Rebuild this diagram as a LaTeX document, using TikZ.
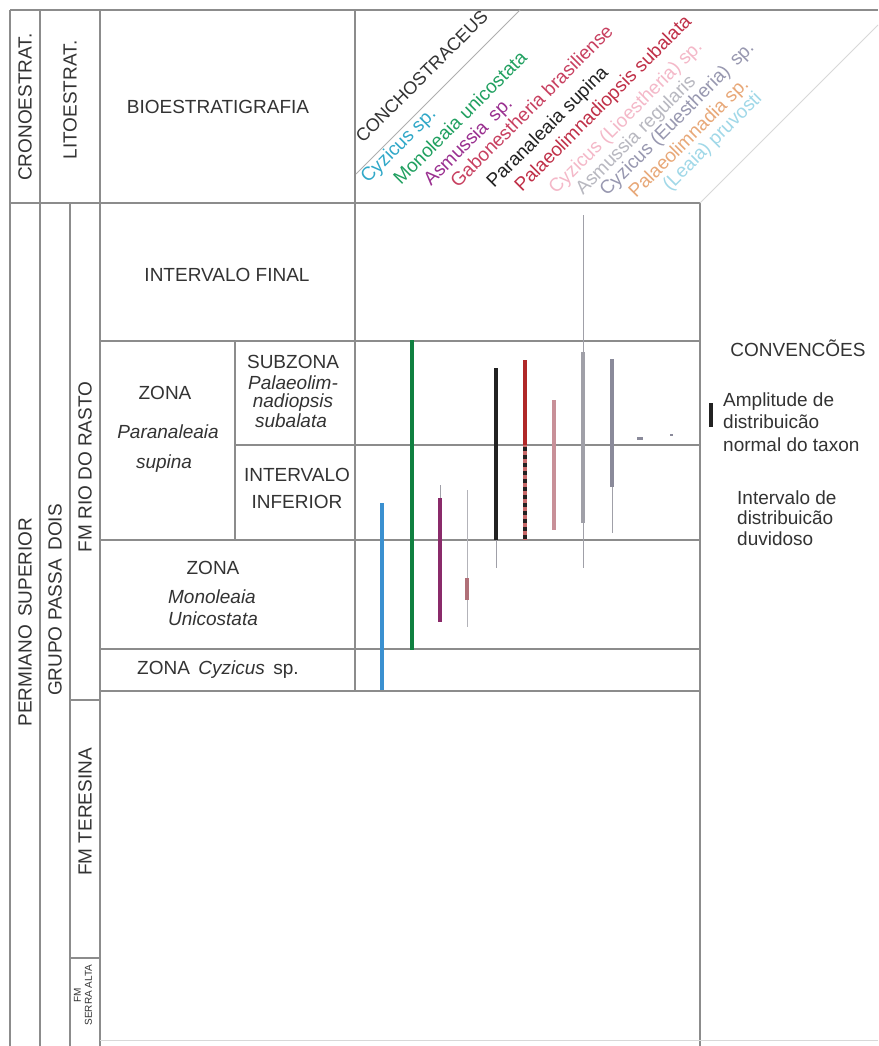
\documentclass[tikz,border=0pt]{standalone}
\usepackage{fontspec}
\setmainfont{Liberation Sans}
\definecolor{gridc}{HTML}{8C8C8C}
\definecolor{faintc}{HTML}{D8D8D8}
\definecolor{txtc}{HTML}{333333}
\definecolor{cblue}{HTML}{3A90D0}
\definecolor{cgreen}{HTML}{108040}
\definecolor{cpurple}{HTML}{8A2A6A}
\definecolor{cbrown}{HTML}{B07078}
\definecolor{cblack}{HTML}{222222}
\definecolor{cred}{HTML}{B02828}
\definecolor{cpink}{HTML}{C89098}
\definecolor{cgray}{HTML}{A0A0A8}
\definecolor{cslate}{HTML}{8A8A9A}
\definecolor{lcyan}{HTML}{30A8C8}
\definecolor{lgreen}{HTML}{20A060}
\definecolor{lpurple}{HTML}{9A3090}
\definecolor{lrose}{HTML}{C84060}
\definecolor{lred}{HTML}{C03048}
\definecolor{llpink}{HTML}{F4B8C8}
\definecolor{llgray}{HTML}{B8B8C0}
\definecolor{lgraypurple}{HTML}{9898B0}
\definecolor{lorange}{HTML}{E8A878}
\definecolor{llcyan}{HTML}{A0D8E8}
\begin{document}
\begin{tikzpicture}[x=1pt,y=-1pt,
  grid/.style={draw=gridc, line width=1.1pt},
  faint/.style={draw=faintc, line width=1pt},
  txt/.style={text=txtc, font=\fontsize{19}{21}\selectfont, inner sep=0pt},
  itxt/.style={txt, font=\fontsize{19}{21}\selectfont\itshape},
  vtxt/.style={txt, rotate=90},
  sp/.style={font=\fontsize{19}{21}\selectfont, rotate=45, anchor=base west, inner sep=0pt},
  bar/.style={line width=4.5pt},
  thinbar/.style={line width=0.8pt}
]
\useasboundingbox (0,0) rectangle (878,1046);
\fill[white] (0,0) rectangle (878,1046);

% ---- table lines ----
\draw[grid] (10,10) -- (878,10);
\draw[grid] (10,10) -- (10,1046);
\draw[grid] (40,10) -- (40,1046);
\draw[grid] (70,203) -- (70,1046);
\draw[grid] (100,10) -- (100,1046);
\draw[grid] (355,10) -- (355,691);
\draw[grid] (700,203) -- (700,1046);
\draw[grid] (10,203) -- (700,203);
\draw[grid] (100,341) -- (700,341);
\draw[grid] (235,341) -- (235,540);
\draw[grid] (235,445) -- (700,445);
\draw[grid] (100,540) -- (700,540);
\draw[grid] (100,649) -- (700,649);
\draw[grid] (100,691) -- (700,691);
\draw[grid] (70,700) -- (100,700);
\draw[grid] (70,958) -- (100,958);
\draw[faint] (100,1040) -- (878,1040);
\draw[draw=gridc!70, line width=0.9pt] (356,174) -- (520,10);
\draw[faint] (700,203) -- (878,25);

% ---- header texts ----
\node[vtxt] (cron) at (25,107) {CRONOESTRAT.};
\node[vtxt] (lito) at (70,100) {LITOESTRAT.};
\node[txt] (bio) at (218,107) {BIOESTRATIGRAFIA};

\node[sp, text=txtc, font=\fontsize{18}{20}\selectfont] (conch) at (363,144) {CONCHOSTRACEUS};
\node[sp, text=lcyan] (s1) at (368,184) {Cyzicus sp.};
\node[sp, text=lgreen] (s2) at (401,186) {Monoleaia unicostata};
\node[sp, text=lpurple] (s3) at (431,187) {Asmussia\, sp.};
\node[sp, text=lrose] (s4) at (458,189) {Gabonestheria brasiliense};
\node[sp, text=cblack] (s5) at (494,189) {Paranaleaia supina};
\node[sp, text=lred] (s6) at (522,193) {Palaeolimnadiopsis subalata};
\node[sp, text=llpink] (s7) at (556,195) {Cyzicus (Lioestheria) sp.};
\node[sp, text=llgray] (s8) at (583,196) {Asmussia regularis};
\node[sp, text=lgraypurple] (s9) at (607,197) {Cyzicus (Euestheria)\, sp.};
\node[sp, text=lorange] (s10) at (636,199) {Palaeolimnadia sp.};
\node[sp, text=llcyan] (s11) at (670,192) {(Leaia) pruvosti};

% ---- left columns ----
\node[vtxt] (perm) at (25,622) {PERMIANO\, SUPERIOR};
\node[vtxt] (grupo) at (55,600) {GRUPO PASSA\, DOIS};
\node[vtxt] (rasto) at (85,467) {FM RIO DO RASTO};
\node[vtxt] (teres) at (85,812) {FM TERESINA};
\node[vtxt, font=\fontsize{10}{11}\selectfont, align=center] (serra) at (83,995) {FM\\SERRA ALTA};

% ---- biostratigraphy ----
\node[txt] (ifinal) at (227,275) {INTERVALO FINAL};
\node[txt] (z1a) at (165,393) {ZONA};
\node[itxt] (z1b) at (168,432) {Paranaleaia};
\node[itxt] (z1c) at (164,464) {supina};
\node[txt] (sza) at (293,362) {SUBZONA};
\node[itxt] (szb) at (293,383) {Palaeolim-};
\node[itxt] (szc) at (293,403) {nadiopsis};
\node[itxt] (szd) at (291,421) {subalata};
\node[txt] (iia) at (297,475) {INTERVALO};
\node[txt] (iib) at (297,502) {INFERIOR};
\node[txt] (z2a) at (213,568) {ZONA};
\node[itxt] (z2b) at (212,597) {Monoleaia};
\node[itxt] (z2c) at (213,619) {Unicostata};
\node[txt] (z3) at (218,670) {ZONA\, \textit{Cyzicus}\, sp.};

% ---- range bars ----
\draw[bar, cblue] (382,503) -- (382,690);
\draw[bar, cgreen] (412,340) -- (412,650);
\draw[thinbar, cgray] (440,485) -- (440,498);
\draw[bar, cpurple] (440,498) -- (440,622);
\draw[thinbar, cgray!80] (467,490) -- (467,627);
\draw[bar, cbrown] (467,578) -- (467,600);
\draw[bar, cblack] (496,368) -- (496,540);
\draw[thinbar, cgray] (496,540) -- (496,568);
\draw[bar, cred] (525,360) -- (525,445);
\draw[bar, cred!70] (525,445) -- (525,540);
\draw[bar, cblack, dash pattern=on 4pt off 4pt] (525,447) -- (525,540);
\draw[bar, cpink] (554,400) -- (554,530);
\draw[thinbar, cgray] (583,215) -- (583,352);
\draw[bar, cgray] (583,352) -- (583,523);
\draw[thinbar, cgray] (583,523) -- (583,568);
\draw[bar, cslate] (612,359) -- (612,487);
\draw[thinbar, cgray] (612,487) -- (612,533);
\draw[line width=3pt, cslate] (637,438) -- (643,438);
\draw[line width=2.5pt, cslate] (670,435) -- (673,435);

% ---- legend ----
\node[txt] (conv) at (798,348) {CONVENC\~OES};
\draw[line width=4pt, cblack] (711,403) -- (711,427);
\node[txt, anchor=west, align=left, font=\fontsize{19}{22.5}\selectfont] (leg1) at (723,422) {Amplitude de\\distribuic\~ao\\normal do taxon};
\node[txt, anchor=west, align=left, font=\fontsize{19}{20.5}\selectfont] (leg2) at (737,518) {Intervalo de\\distribuic\~ao\\duvidoso};
\end{tikzpicture}
\end{document}
